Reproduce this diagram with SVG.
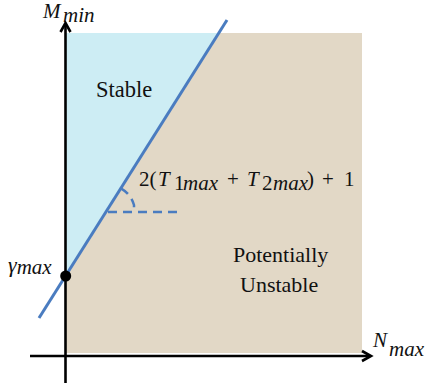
<svg xmlns="http://www.w3.org/2000/svg" width="425" height="386" viewBox="0 0 425 386">
<g id="regions">
<rect id="unstable-region" x="66" y="33" width="296" height="320" fill="#e2d8c6"/>
<polygon id="stable-region" points="66,33 219,33 66,275.5" fill="#cdedf4"/>
</g>
<g id="connectors" fill="none">
<line x1="65.5" y1="383" x2="65.5" y2="24" stroke="#000" stroke-width="2.6"/>
<path d="M60.5 32 L65.5 23 L70.5 32" stroke="#000" stroke-width="2.6"/>
<line x1="30" y1="356" x2="370" y2="356" stroke="#000" stroke-width="2.6"/>
<path d="M362 351 L371 356 L362 361" stroke="#000" stroke-width="2.6"/>
<line x1="39" y1="318" x2="227" y2="20" stroke="#4a7cc0" stroke-width="3"/>
<line x1="108" y1="212" x2="180" y2="212" stroke="#4a7cc0" stroke-width="2.5" stroke-dasharray="9 6"/>
<path d="M120.9 188.3 A28 28 0 0 1 134 205 L134 212" stroke="#4a7cc0" stroke-width="2.5" stroke-dasharray="9 6"/>
</g>
<g id="gamma-point">
<circle cx="65.7" cy="276" r="5.5" fill="#000"/>
<text font-family="Liberation Serif" font-style="italic" fill="#111" x="8" y="272" font-size="22">γ<tspan y="274" font-size="21">max</tspan></text>
</g>
<g id="axis-labels">
<text font-family="Liberation Serif" font-style="italic" fill="#111" x="43" y="18" font-size="21">M<tspan x="63" y="22" font-size="21">min</tspan></text>
<text font-family="Liberation Serif" font-style="italic" fill="#111" x="373" y="347" font-size="21">N<tspan x="389" y="356" font-size="21">max</tspan></text>
</g>
<g id="stable">
<text font-family="Liberation Serif" fill="#111" x="96" y="97" font-size="22.5">Stable</text>
</g>
<g id="potentially-unstable">
<text font-family="Liberation Serif" fill="#111" x="233" y="262" font-size="22">Potentially</text>
<text font-family="Liberation Serif" fill="#111" x="240" y="292" font-size="22">Unstable</text>
</g>
<g id="slope-label">
<text font-family="Liberation Serif" font-style="italic" fill="#111" font-size="21" y="186"><tspan x="139" font-style="normal">2(</tspan><tspan x="158">T</tspan><tspan x="174" y="190" font-style="normal">1</tspan><tspan x="183" y="190">max</tspan><tspan x="227" y="186" font-style="normal">+</tspan><tspan x="247">T</tspan><tspan x="262" y="190" font-style="normal">2</tspan><tspan x="273" y="190">max</tspan><tspan x="307" y="186" font-style="normal">)</tspan><tspan x="322" font-style="normal">+</tspan><tspan x="344" font-style="normal">1</tspan></text>
</g>
</svg>
